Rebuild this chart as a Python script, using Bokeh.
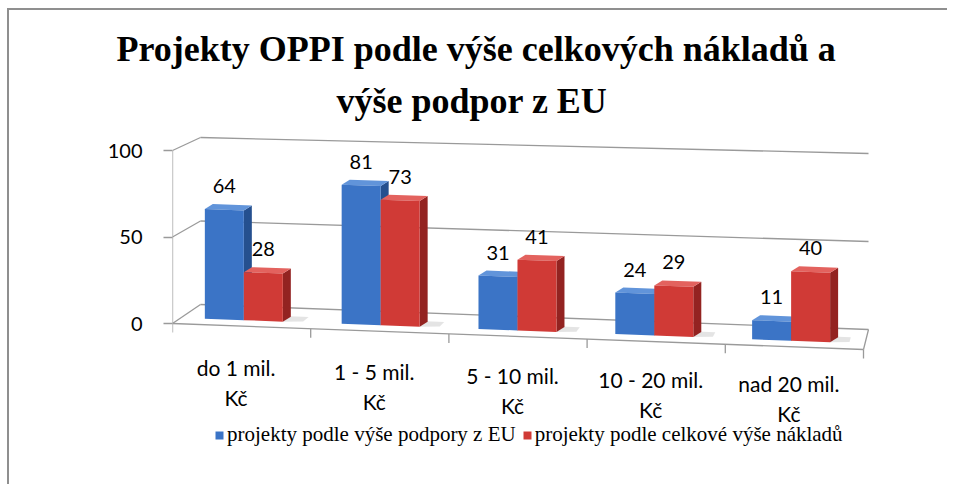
from bokeh.plotting import figure
from bokeh.models import Range1d, FixedTicker, Legend, LegendItem, Title
from bokeh.embed import file_html
from bokeh.resources import INLINE
from bokeh.core.properties import value

# ---------------- data ----------------
categories = ["do 1 mil.\nKč", "1 - 5 mil.\nKč", "5 - 10 mil.\nKč", "10 - 20 mil.\nKč", "nad 20 mil.\nKč"]
series_names = ["projekty podle výše podpory z EU", "projekty podle celkové výše nákladů"]
eu_support = [64, 81, 31, 24, 11]
total_costs = [28, 73, 41, 29, 40]
y_ticks = [0, 50, 100]
y_max = 100
title_lines = ["Projekty OPPI podle výše celkových nákladů a", "výše podpor z EU"]

# ---------------- layout (page px) ----------------
OX, OY = 9, 10           # page position of the canvas (after margin + border)
W, H = 940, 476
N = len(categories)
FX0, FX1 = 172, 863      # front floor edge x (left, right)
BX0, BX1 = 200, 868      # back floor edge x
FY0, FY1 = 323, 349      # front floor edge y
BY0, BY1 = 304, 329      # back floor edge y
FS = 1.73                # px per value unit at front
BS0, BS1 = 1.67, 1.76    # px per value unit at back
UX = (FX1 - FX0) / N     # px per category at front


def proj(u, v, d):
    t = u / N
    fx = FX0 + (FX1 - FX0) * t
    bx = BX0 + (BX1 - BX0) * t
    fy = FY0 + (FY1 - FY0) * t
    by = BY0 + (BY1 - BY0) * t
    bs = BS0 + (BS1 - BS0) * t
    px = fx + (bx - fx) * d
    floor = fy + (by - fy) * d
    s = FS + (bs - FS) * d
    py = floor - s * v
    return ((px - FX0) / UX, (FY0 - py) / FS)


FRAME_LEFT, FRAME_RIGHT, FRAME_TOP, FRAME_BOTTOM = 172, 940, 130, 478  # page px
x0 = (FRAME_LEFT - FX0) / UX
x1 = (FRAME_RIGHT - FX0) / UX
y1 = (FY0 - FRAME_TOP) / FS
y0 = (FY0 - FRAME_BOTTOM) / FS

p = figure(width=W, height=H, output_backend="svg", toolbar_location=None,
           x_range=Range1d(x0, x1), y_range=Range1d(y0, y1),
           x_axis_location=None,
           min_border_left=FRAME_LEFT - OX, min_border_right=W - (FRAME_RIGHT - OX),
           min_border_top=FRAME_TOP - OY, min_border_bottom=H - (FRAME_BOTTOM - OY),
           styles={"margin-left": "7px", "margin-top": "8px",
                   "border-top": "2px solid #8f8f8f", "border-left": "2px solid #8f8f8f"})
p.outline_line_color = None
p.grid.visible = False
p.background_fill_color = "white"
p.border_fill_color = "white"

# y axis (front-left edge)
ya = p.yaxis[0]
ya.ticker = FixedTicker(ticks=y_ticks)
ya.axis_line_color = None
ya.major_tick_out = 9
ya.major_tick_in = 0
ya.major_tick_line_color = "#9a9a9a"
ya.major_tick_line_width = 1.3
ya.minor_tick_line_color = None
ya.major_label_standoff = 21
ya.major_label_text_font = "Lato"
ya.major_label_text_font_size = "20px"
ya.major_label_text_color = "black"

# ---------------- walls / floor ----------------
LC, LW = "#9a9a9a", 1.3
wx0, wy0, wx1, wy1 = [], [], [], []
def seg(a, b):
    wx0.append(a[0]); wy0.append(a[1]); wx1.append(b[0]); wy1.append(b[1])
for t in y_ticks:
    seg(proj(0, t, 1), proj(N, t, 1))      # back wall gridlines
    seg(proj(0, t, 0), proj(0, t, 1))      # side wall lines
seg(proj(0, 0, 0), proj(0, y_max, 0))      # front-left edge
seg(proj(0, 0, 0), proj(N, 0, 0))          # floor front edge
seg(proj(N, 0, 0), proj(N, 0, 1))          # floor right edge
TICK = 9 / FS
for i in range(N + 1):
    a = proj(i, 0, 0)
    seg(a, (a[0], a[1] - TICK))
p.segment(wx0, wy0, wx1, wy1, line_color=LC, line_width=LW)

# ---------------- bars ----------------
GROUP_C, BAR_W, D_BAR, D_SH = 0.46, 0.285, 0.3, 0.28
SIDE_DX, SIDE_DY = 8 / UX, 5 / FS
colors = [("#3B74C6", "#25508F", "#6194DA"), ("#D03A36", "#932321", "#E3625E")]
series = [eu_support, total_costs]
front_r = []
lab_x, lab_y, lab_t = [], [], []
shx, shy = [], []
polys = {k: {"front": ([], []), "side": ([], []), "top": ([], [])} for k in range(2)}
for i in range(N):
    for k, vals in enumerate(series):
        v = vals[i]
        u0 = i + GROUP_C - BAR_W + k * BAR_W
        u1 = u0 + BAR_W
        bl, br = proj(u0, 0, D_BAR), proj(u1, 0, D_BAR)
        tl, tr = proj(u0, v, D_BAR), proj(u1, v, D_BAR)

        def sh(pt):
            return (pt[0] + SIDE_DX, pt[1] + SIDE_DY)
        shapes = {"front": [bl, br, tr, tl],
                  "side": [br, sh(br), sh(tr), tr],
                  "top": [tl, tr, sh(tr), sh(tl)]}
        for name, pts in shapes.items():
            polys[k][name][0].append([q[0] for q in pts])
            polys[k][name][1].append([q[1] for q in pts])
        lab_x.append((tl[0] + tr[0]) / 2)
        lab_y.append(tl[1] + 23 / FS)
        lab_t.append(str(v))
        if k == len(series) - 1:
            # soft floor shadow to the right of the group
            pts = [proj(u1, 0, D_BAR), proj(u1 + 0.14, 0, D_BAR + 0.05),
                   proj(u1 + 0.14, 0, D_BAR + D_SH), proj(u1, 0, D_BAR + D_SH)]
            shx.append([q[0] for q in pts]); shy.append([q[1] for q in pts])

p.patches(shx, shy, fill_color="#d9d9d9", fill_alpha=0.7, line_color=None)
for k in range(2):
    cf, cs, ct = colors[k]
    p.patches(polys[k]["side"][0], polys[k]["side"][1], fill_color=cs, line_color=None)
    p.patches(polys[k]["top"][0], polys[k]["top"][1], fill_color=ct, line_color=None)
    r = p.patches(polys[k]["front"][0], polys[k]["front"][1], fill_color=cf, line_color=None)
    front_r.append(r)

# value labels
p.text(lab_x, lab_y, text=lab_t, text_font=value("Lato"), text_font_size="20px",
       text_align="center", text_baseline="middle", text_color="black")

# category labels (two lines each, following the sloped floor edge)
line1 = [c.split("\n")[0] for c in categories]
line2 = [c.split("\n")[1] for c in categories]
cx, cy1, cy2 = [], [], []
for i in range(N):
    u = i + GROUP_C
    a = proj(u, 0, 0)
    off = 42 - 1.1 * u
    cx.append(a[0]); cy1.append(a[1] - off / FS); cy2.append(a[1] - (off + 30) / FS)
for ys, txt in ((cy1, line1), (cy2, line2)):
    p.text(cx, ys, text=txt, text_font=value("Lato"), text_font_size="21px",
           text_align="center", text_baseline="middle", text_color="black")

# legend
legend = Legend(items=[LegendItem(label=series_names[k], renderers=[front_r[k]]) for k in range(2)],
                orientation="horizontal", location=(42, 31),
                glyph_width=10, glyph_height=10, label_standoff=3, spacing=6,
                label_text_font="Liberation Serif", label_text_font_size="21px",
                label_text_color="black", border_line_color=None, background_fill_alpha=0,
                padding=0, margin=0)
p.add_layout(legend)

# titles (two lines, placed over the chart area)
p.add_layout(Title(text=title_lines[1], align="left", offset=336 - FRAME_LEFT,
                   text_font="Liberation Serif", text_font_size="36px",
                   text_font_style="bold", text_color="black", standoff=20), "above")
p.add_layout(Title(text=title_lines[0], align="left", offset=116 - FRAME_LEFT,
                   text_font="Liberation Serif", text_font_size="36px",
                   text_font_style="bold", text_color="black", standoff=0), "above")

open("out.html", "w").write(file_html(p, INLINE))
